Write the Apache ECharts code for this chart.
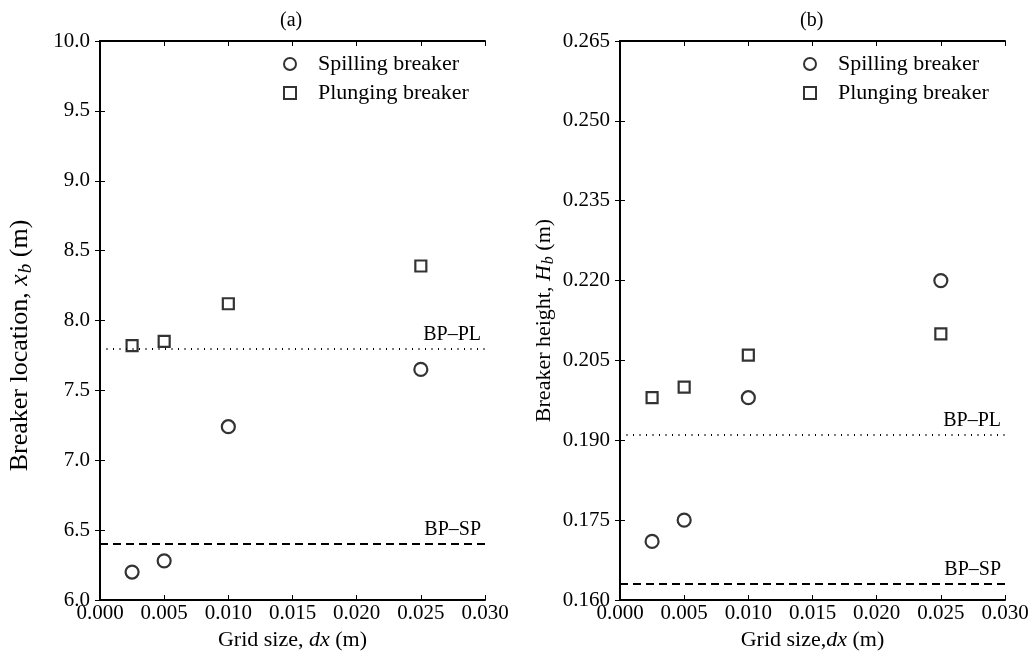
<!DOCTYPE html>
<html>
<head>
<meta charset="utf-8">
<script src="https://cdn.jsdelivr.net/npm/echarts@6/dist/echarts.min.js"></script>
<style>
  html, body { margin: 0; padding: 0; background: #fff; }
  #chart { width: 1033px; height: 656px; }
</style>
</head>
<body>
<div id="chart"></div>
<script>
// grid sizes dx (m)
var dxValues = [0.0025, 0.005, 0.010, 0.025];
// (a) breaker location x_b (m)
var xbSpilling = [6.20, 6.28, 7.24, 7.65];
var xbPlunging = [7.82, 7.85, 8.12, 8.39];
var xbLinePL = 7.80;
var xbLineSP = 6.40;
// (b) breaker height H_b (m)
var hbSpilling = [0.171, 0.175, 0.198, 0.220];
var hbPlunging = [0.198, 0.200, 0.206, 0.210];
var hbLinePL = 0.191;
var hbLineSP = 0.163;

var font = "'Liberation Serif', 'Times New Roman', serif";
var myChart = echarts.init(document.getElementById('chart'));

function pairs(xs, ys) {
  var res = [];
  for (var i = 0; i < xs.length; i++) res.push([xs[i], ys[i]]);
  return res;
}

var lineBase = { show: true, lineStyle: { color: '#000', width: 2 } };

function xAx(gi, top) {
  return {
    type: 'value', gridIndex: gi, position: top ? 'top' : 'bottom',
    min: 0, max: 0.03, interval: 0.005,
    axisLine: lineBase,
    axisTick: { show: true, inside: true, length: 5, lineStyle: { color: '#000', width: 1 } },
    splitLine: { show: false },
    axisLabel: { show: !top, margin: 3, color: '#000', fontFamily: font, fontSize: 21,
      formatter: function (v) { return v.toFixed(3); } },
    name: top ? '' : (gi === 0 ? 'Grid size, {i|dx} (m)' : 'Grid size,{i|dx} (m)'),
    nameLocation: 'middle', nameGap: 29,
    nameTextStyle: { color: '#000', fontFamily: font, fontSize: 22,
      rich: { i: { fontStyle: 'italic', fontFamily: font, fontSize: 22, color: '#000' } } }
  };
}

function yAx(gi, right, min, max, step, dec, name, gap, fs, shift) {
  return {
    type: 'value', gridIndex: gi, position: right ? 'right' : 'left',
    min: min, max: max, interval: step,
    axisLine: lineBase,
    axisTick: { show: true, inside: true, length: 5, lineStyle: { color: '#000', width: 1 } },
    splitLine: { show: false },
    axisLabel: { show: !right, margin: 10, color: '#000', fontFamily: font, fontSize: 21,
      formatter: function (v) { return v.toFixed(dec); } },
    name: right ? '' : name,
    nameLocation: 'middle', nameRotate: 90, nameGap: gap,
    nameTextStyle: { color: '#000', fontFamily: font, fontSize: fs, lineHeight: fs + 4,
      padding: [0, shift || 0, 0, 0],
      rich: {
        i: { fontStyle: 'italic', fontFamily: font, fontSize: fs, color: '#000' },
        sub: { fontStyle: 'italic', fontFamily: font, fontSize: Math.round(fs * 0.72), color: '#000',
          verticalAlign: 'bottom', padding: [Math.round(fs * 0.4), 0, 0, 1] }
      } }
  };
}

function markLines(pl, sp, which) {
  var label = { show: true, position: 'insideEndTop', color: '#000', fontFamily: font, fontSize: 20, distance: 4 };
  if (which === 'pl') {
    return { silent: true, symbol: 'none', animation: false, precision: 4,
      lineStyle: { color: '#000', width: 1.8, type: [1, 5.5] },
      label: Object.assign({ formatter: 'BP\u2013PL' }, label),
      data: [{ yAxis: pl }] };
  }
  return { silent: true, symbol: 'none', animation: false, precision: 4,
    lineStyle: { color: '#000', width: 1.8, type: [8, 5] },
    label: Object.assign({ formatter: 'BP\u2013SP' }, label),
    data: [{ yAxis: sp }] };
}

var markerStyle = { color: '#fff', borderColor: '#000', borderWidth: 2.2 };

function legend(left) {
  return {
    orient: 'vertical', left: left, top: 53, itemGap: 7, padding: 0,
    itemWidth: 12, itemHeight: 12,
    data: [
      { name: 'Spilling breaker', icon: 'circle' },
      { name: 'Plunging breaker', icon: 'rect' }
    ],
    textStyle: { color: '#000', fontFamily: font, fontSize: 22, padding: [0, 0, 0, 17] }
  };
}

myChart.setOption({
  animation: false,
  title: [
    { text: '(a)', left: 275, top: 6, textStyle: { color: '#000', fontFamily: font, fontSize: 20, fontWeight: 'normal' } },
    { text: '(b)', left: 795, top: 6, textStyle: { color: '#000', fontFamily: font, fontSize: 20, fontWeight: 'normal' } }
  ],
  grid: [
    { left: 100, top: 41, width: 385, height: 561 },
    { left: 620, top: 41, width: 385, height: 561 }
  ],
  legend: [legend(283), legend(803)],
  xAxis: [xAx(0, false), xAx(1, false), xAx(0, true), xAx(1, true)],
  yAxis: [
    yAx(0, false, 6, 10, 0.5, 1, 'Breaker location, {i|x}{sub|b} (m)', 65, 26, 50),
    yAx(1, false, 0.16, 0.265, 0.015, 3, 'Breaker height, {i|H}{sub|b} (m)', 63, 22, 0),
    yAx(0, true, 6, 10, 0.5, 1, '', 0, 22, 0),
    yAx(1, true, 0.16, 0.265, 0.015, 3, '', 0, 22, 0)
  ],
  series: [
    { name: 'Spilling breaker', type: 'scatter', xAxisIndex: 0, yAxisIndex: 0,
      symbol: 'circle', symbolSize: 13, itemStyle: markerStyle,
      data: pairs(dxValues, xbSpilling), markLine: markLines(xbLinePL, xbLineSP, 'sp') },
    { name: 'Plunging breaker', type: 'scatter', xAxisIndex: 0, yAxisIndex: 0,
      symbol: 'rect', symbolSize: 11, itemStyle: markerStyle,
      data: pairs(dxValues, xbPlunging), markLine: markLines(xbLinePL, xbLineSP, 'pl') },
    { name: 'Spilling breaker', type: 'scatter', xAxisIndex: 1, yAxisIndex: 1,
      symbol: 'circle', symbolSize: 13, itemStyle: markerStyle,
      data: pairs(dxValues, hbSpilling), markLine: markLines(hbLinePL, hbLineSP, 'sp') },
    { name: 'Plunging breaker', type: 'scatter', xAxisIndex: 1, yAxisIndex: 1,
      symbol: 'rect', symbolSize: 11, itemStyle: markerStyle,
      data: pairs(dxValues, hbPlunging), markLine: markLines(hbLinePL, hbLineSP, 'pl') }
  ]
});

window.addEventListener('resize', function () {
  myChart.resize();
});
</script>
</body>
</html>
